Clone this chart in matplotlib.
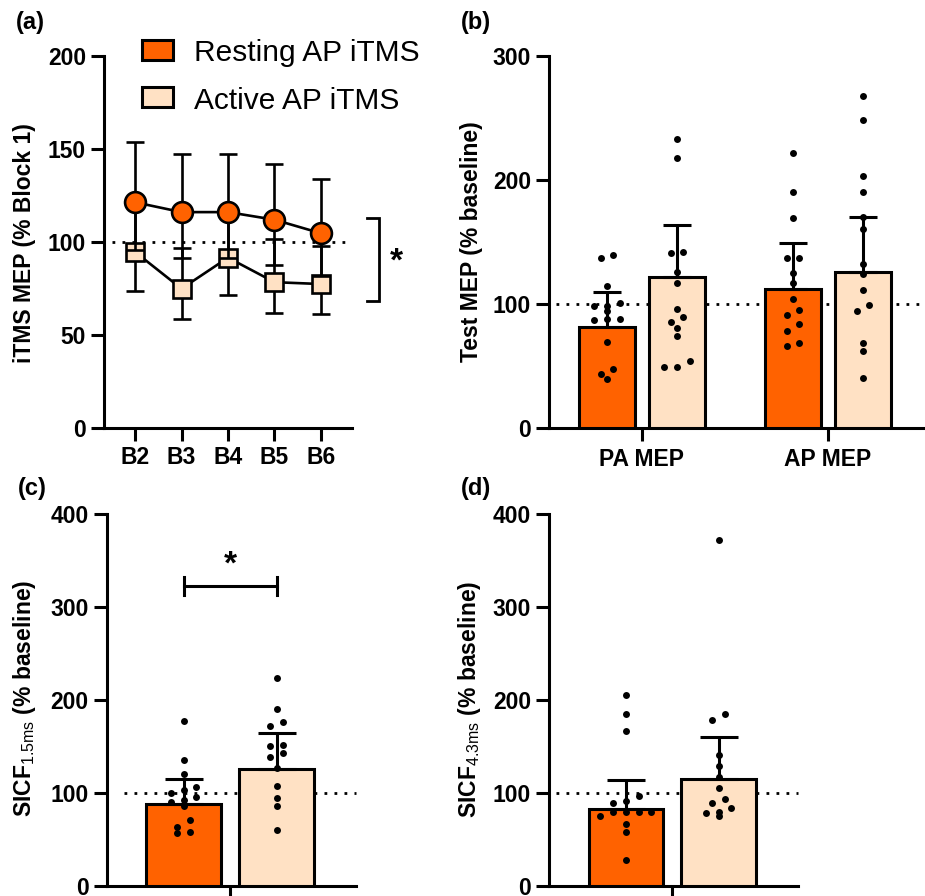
import numpy as np
import matplotlib
matplotlib.use("Agg")
import matplotlib.pyplot as plt
from matplotlib.patches import Rectangle

plt.rcParams['font.family'] = ['Liberation Sans', 'DejaVu Sans']
plt.rcParams['mathtext.fontset'] = 'custom'
plt.rcParams['mathtext.rm'] = 'Liberation Sans'
plt.rcParams['mathtext.bf'] = 'Liberation Sans:bold'

# ---------------- data ----------------
blocks = ["B2", "B3", "B4", "B5", "B6"]
rest_mean = [121.3, 116.0, 116.0, 111.9, 104.6]
rest_hi = [153.9, 147.1, 147.1, 141.9, 133.9]
rest_lo = [95.6, 91.5, 91.5, 87.6, 81.7]
act_mean = [94.6, 74.8, 91.5, 78.3, 77.3]
act_hi = [121.3, 96.5, 116.9, 101.4, 97.9]
act_lo = [73.8, 58.7, 71.6, 61.7, 61.0]

legend_labels = ["Resting AP iTMS", "Active AP iTMS"]

mep_cats = ["PA MEP", "AP MEP"]
mep_rest_mean = [81.5, 111.7]
mep_rest_sd = [28.0, 37.6]
mep_act_mean = [121.9, 125.9]
mep_act_sd = [41.9, 44.4]
pa_rest_pts = [139, 137, 114.6, 100.9, 98.2, 98.2, 94.2, 88, 88, 87, 69.2, 47.4, 43.6, 39]
pa_act_pts = [233, 218, 142, 141, 126, 117, 95.6, 89.1, 85.6, 80.7, 74.3, 53.8, 49.2, 49.2]
ap_rest_pts = [221.5, 190, 169.3, 137.2, 137.2, 124.6, 116.5, 103.9, 94.7, 90.7, 83.7, 78.3, 68.1, 66.2]
ap_act_pts = [267.5, 248.3, 202.9, 190.5, 170.3, 160.1, 132.1, 123.8, 110.9, 99.3, 93.9, 68.4, 61.9, 40.4]

sicf15_rest_mean, sicf15_rest_sd = 87.9, 26.9
sicf15_act_mean, sicf15_act_sd = 126.3, 38.7
sicf15_rest_pts = [177.3, 135.6, 120.6, 106.6, 103.3, 99.8, 96.1, 92.6, 90.0, 86.4, 70.7, 63.9, 57.8, 57.4]
sicf15_act_pts = [223.9, 190.5, 176.9, 172.6, 151.7, 151.0, 142.8, 139.2, 126.7, 107.6, 94.4, 86.4, 60.0]

sicf43_rest_mean, sicf43_rest_sd = 82.5, 31.6
sicf43_act_mean, sicf43_act_sd = 114.8, 45.2
sicf43_rest_pts = [205.6, 185.1, 167.2, 96.9, 91.9, 89.7, 80, 80, 80, 80, 75.3, 66.4, 58.5, 28.0]
sicf43_act_pts = [372.8, 185.1, 178.7, 141.3, 129.2, 117.7, 105.2, 93.6, 89.0, 84.3, 80.0, 78.6, 75.7]

# ---------------- style ----------------
ORANGE = '#FF6200'
PEACH = '#FFE1C4'
W, H = 925, 896
DPI = 100
LW = 2.2
TICK_FS = 16.5
LAB_FS = 16.5

fig = plt.figure(figsize=(W / DPI, H / DPI), dpi=DPI)


def px_axes(x0, x1, y_top, y_bot):
    return fig.add_axes([x0 / W, 1 - y_bot / H, (x1 - x0) / W, (y_bot - y_top) / H])


def style(ax, xpad=3.5):
    for s in ['top', 'right']:
        ax.spines[s].set_visible(False)
    for s in ['left', 'bottom']:
        ax.spines[s].set_linewidth(LW)
    ax.tick_params(axis='both', which='major', width=LW, length=9.5,
                   labelsize=TICK_FS, direction='out', pad=3.5)
    ax.tick_params(axis='x', pad=xpad)
    for lab in ax.get_yticklabels() + ax.get_xticklabels():
        lab.set_fontweight('bold')


def dotted(ax, x0, x1):
    ax.plot([x0, x1], [100, 100], color='black', lw=2.0, linestyle=(0, (1, 2.6)),
            zorder=1, clip_on=False)


def swarm(ax, x_center, vals, step_px=12.7, tol_px=7.0):
    vals = np.asarray(vals, float)
    p0 = ax.transData.transform((0, 0))
    p1 = ax.transData.transform((1, 1))
    px_x = p1[0] - p0[0]
    px_y = p1[1] - p0[1]
    order = np.argsort(-vals, kind='stable')
    rows, cur, top = [], [order[0]], vals[order[0]]
    for idx in order[1:]:
        if (top - vals[idx]) * px_y <= tol_px:
            cur.append(idx)
        else:
            rows.append(cur)
            cur, top = [idx], vals[idx]
    rows.append(cur)
    xs = np.zeros(len(vals))
    for row in rows:
        row = sorted(row, key=lambda i: vals[i])
        k = len(row)
        for j, idx in enumerate(row):
            xs[idx] = x_center + (j - (k - 1) / 2) * step_px / px_x
    ax.plot(xs, vals, 'o', color='black', ms=5.0, mew=0, zorder=6, clip_on=False)


def bar_with_err(ax, x, mean, sd, color, width, capsize):
    ax.bar(x, mean, width=width, color=color, edgecolor='black', linewidth=LW, zorder=3)
    ax.errorbar(x, mean, yerr=[[0], [sd]], fmt='none', ecolor='black', elinewidth=LW,
                capsize=capsize, capthick=LW, zorder=5)


# ================= panel (a) =================
axA = px_axes(104, 352, 56, 427.7)
xa = np.arange(len(blocks))
axA.set_xlim(-0.667, 4.667)
axA.set_ylim(0, 200)
dotted(axA, -0.5, 4.667)
act_err = [np.array(act_mean) - np.array(act_lo), np.array(act_hi) - np.array(act_mean)]
rest_err = [np.array(rest_mean) - np.array(rest_lo), np.array(rest_hi) - np.array(rest_mean)]
axA.errorbar(xa, act_mean, yerr=act_err, fmt='none', ecolor='black', elinewidth=1.9,
             capsize=6.5, capthick=1.9, zorder=2, clip_on=False)
axA.plot(xa, act_mean, '-', color='black', lw=1.9, marker='s', ms=13.4,
         mfc=PEACH, mec='black', mew=1.9, zorder=3, clip_on=False)
axA.errorbar(xa, rest_mean, yerr=rest_err, fmt='none', ecolor='black', elinewidth=1.9,
             capsize=6.5, capthick=1.9, zorder=4, clip_on=False)
axA.plot(xa, rest_mean, '-', color='black', lw=1.9, marker='o', ms=15,
         mfc=ORANGE, mec='black', mew=1.9, zorder=5, clip_on=False)
axA.set_yticks([0, 50, 100, 150, 200])
axA.set_xticks(xa)
axA.set_xticklabels(blocks)
axA.set_ylabel("iTMS MEP (% Block 1)", fontsize=LAB_FS, fontweight='bold', va='center')
axA.yaxis.set_label_coords((25 - 104) / 248, 0.496)
style(axA, xpad=4)
axA.plot([4.98, 5.25, 5.25, 4.98], [112.7, 112.7, 68.4, 68.4], color='black', lw=2.0,
         clip_on=False, solid_joinstyle='miter')
axA.text(5.63, 89.3, '*', fontsize=24, fontweight='bold', ha='center', va='center',
         clip_on=False)

for i, (lab, col) in enumerate(zip(legend_labels, [ORANGE, PEACH])):
    yc = [50.0, 97.5][i]
    fig.add_artist(Rectangle((141.7 / W, 1 - (yc + 10) / H), 31.6 / W, 20 / H,
                             transform=fig.transFigure, facecolor=col,
                             edgecolor='black', linewidth=2.2))
    fig.text(194.3 / W, 1 - (yc + 11.2) / H, lab, fontsize=21.5, ha='left',
             va='baseline')

# ================= panel (b) =================
axB = px_axes(549.3, 923, 56, 427.7)
axB.set_xlim(-0.498, 1.51)
axB.set_ylim(0, 300)
dotted(axB, -0.46, 1.51)
xb = np.arange(len(mep_cats))
bw, off = 0.30, 0.188
for i in range(len(mep_cats)):
    bar_with_err(axB, xb[i] - off, mep_rest_mean[i], mep_rest_sd[i], ORANGE, bw, 10)
    bar_with_err(axB, xb[i] + off, mep_act_mean[i], mep_act_sd[i], PEACH, bw, 10)
swarm(axB, xb[0] - off, pa_rest_pts)
swarm(axB, xb[0] + off, pa_act_pts)
swarm(axB, xb[1] - off, ap_rest_pts)
swarm(axB, xb[1] + off, ap_act_pts)
axB.set_yticks([0, 100, 200, 300])
axB.set_xticks(xb)
axB.set_xticklabels(mep_cats)
axB.set_ylabel("Test MEP (% baseline)", fontsize=LAB_FS, fontweight='bold', va='center')
axB.yaxis.set_label_coords((471.7 - 549.3) / 373.7, 0.5)
style(axB, xpad=5)

# ================= panel (c) =================
axC = px_axes(106.7, 356, 514.3, 886)
axC.set_xlim(-1.327, 1.355)
axC.set_ylim(0, 400)
dotted(axC, -1.137, 1.355)
bar_with_err(axC, -0.5, sicf15_rest_mean, sicf15_rest_sd, ORANGE, 0.8, 13.5)
bar_with_err(axC, 0.5, sicf15_act_mean, sicf15_act_sd, PEACH, 0.8, 13.5)
swarm(axC, -0.5, sicf15_rest_pts)
swarm(axC, 0.5, sicf15_act_pts)
axC.set_yticks([0, 100, 200, 300, 400])
axC.set_xticks([0])
axC.set_xticklabels([""])
axC.set_ylabel(r"SICF$_{\rm 1.5ms}$ (% baseline)", fontsize=LAB_FS, fontweight='bold',
               va='center')
axC.yaxis.set_label_coords((25 - 106.7) / 249.3, 0.506)
style(axC)
axC.plot([-0.5, 0.5], [322.9, 322.9], color='black', lw=LW, zorder=5)
axC.plot([-0.5, -0.5], [312.9, 332.9], color='black', lw=LW, zorder=5)
axC.plot([0.5, 0.5], [312.9, 332.9], color='black', lw=LW, zorder=5)
axC.text(0.0, 345.5, '*', fontsize=24, fontweight='bold', ha='center', va='center')

# ================= panel (d) =================
axD = px_axes(549.3, 797.7, 514.3, 886)
axD.set_xlim(-1.327, 1.355)
axD.set_ylim(0, 400)
dotted(axD, -1.25, 1.355)
bar_with_err(axD, -0.5, sicf43_rest_mean, sicf43_rest_sd, ORANGE, 0.8, 13.5)
bar_with_err(axD, 0.5, sicf43_act_mean, sicf43_act_sd, PEACH, 0.8, 13.5)
swarm(axD, -0.5, sicf43_rest_pts)
swarm(axD, 0.5, sicf43_act_pts)
axD.set_yticks([0, 100, 200, 300, 400])
axD.set_xticks([0])
axD.set_xticklabels([""])
axD.set_ylabel(r"SICF$_{\rm 4.3ms}$ (% baseline)", fontsize=LAB_FS, fontweight='bold',
               va='center')
axD.yaxis.set_label_coords((470 - 549.3) / 248.4, 0.503)
style(axD)

for lab, x, y in [("(a)", 16, 23), ("(b)", 461, 23), ("(c)", 18, 488), ("(d)", 461, 488)]:
    fig.text(x / W, 1 - y / H, lab, fontsize=17, fontweight='bold', ha='left', va='center')

fig.savefig("out.png", dpi=DPI)
